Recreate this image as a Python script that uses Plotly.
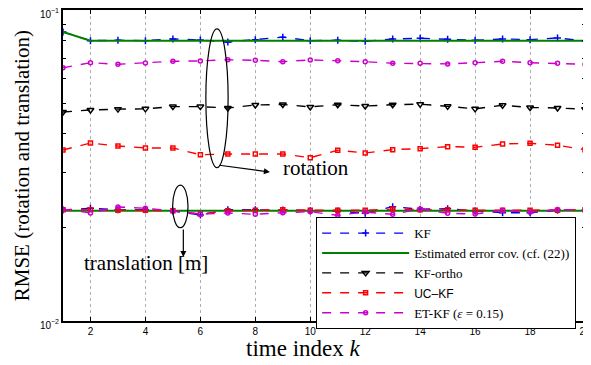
import plotly.graph_objects as go

k = list(range(1, 21))

# rotation RMSE
kf_rot = [0.0850, 0.0797, 0.0799, 0.0797, 0.0807, 0.0801, 0.0789, 0.0803, 0.0818, 0.0797,
          0.0799, 0.0793, 0.0807, 0.0811, 0.0805, 0.0799, 0.0807, 0.0803, 0.0813, 0.0795]
est_rot = [0.0850, 0.0797, 0.0797, 0.0797, 0.0797, 0.0797, 0.0797, 0.0797, 0.0797, 0.0797,
           0.0797, 0.0797, 0.0797, 0.0797, 0.0797, 0.0797, 0.0797, 0.0797, 0.0797, 0.0797]
ortho_rot = [0.0470, 0.0477, 0.0480, 0.0481, 0.0489, 0.0489, 0.0484, 0.0495, 0.0497, 0.0488,
             0.0496, 0.0491, 0.0496, 0.0498, 0.0490, 0.0481, 0.0494, 0.0486, 0.0484, 0.0480]
uc_rot = [0.03547, 0.03735, 0.03653, 0.03600, 0.03600, 0.03425, 0.03443, 0.03443, 0.03443, 0.03350,
          0.03540, 0.03470, 0.03556, 0.03583, 0.03636, 0.03620, 0.03708, 0.03728, 0.03673, 0.03556]
et_rot = [0.0652, 0.0677, 0.0669, 0.0675, 0.0684, 0.0686, 0.0692, 0.0689, 0.0682, 0.0691,
          0.0687, 0.0682, 0.0674, 0.0674, 0.0671, 0.0677, 0.0684, 0.0677, 0.0674, 0.0669]

# translation RMSE
kf_tr = [0.02275, 0.02304, 0.02280, 0.02280, 0.02258, 0.02192, 0.02280, 0.02280, 0.02275, 0.02263,
         0.02258, 0.02220, 0.02331, 0.02287, 0.02297, 0.02258, 0.02230, 0.02230, 0.02269, 0.02269]
est_tr = [0.02263] * 20
uc_tr = [0.0228, 0.0228, 0.0227, 0.0227, 0.0226, 0.0221, 0.0226, 0.0227, 0.0228, 0.0227,
         0.0227, 0.0227, 0.0229, 0.0228, 0.0228, 0.0227, 0.0227, 0.0227, 0.0227, 0.0228]
et_tr = [0.02287, 0.02225, 0.02326, 0.02304, 0.02258, 0.02208, 0.02225, 0.02203, 0.02230, 0.02246,
         0.02187, 0.02241, 0.02203, 0.02292, 0.02220, 0.02208, 0.02269, 0.02236, 0.02280, 0.02280]

serif = "Liberation Serif, Times New Roman, serif"
sans = "Liberation Sans, Arial, sans-serif"

names = ["KF", "Estimated error cov. (cf. (22))", "KF-ortho",
         "<span style=\"font-family:Liberation Sans, Arial, sans-serif; font-size:12px\">UC\u2013KF</span>",
         "ET-KF (<i>\u03b5</i> = 0.15)"]

fig = go.Figure()

def add(name, rot, tr, color, dash, symbol, size, lw=1.4):
    xs = k + [None] + (k if tr is not None else [])
    ys = rot + [None] + (tr if tr is not None else [])
    fig.add_trace(go.Scatter(
        x=xs, y=ys, name=name, mode="lines+markers" if symbol else "lines",
        line=dict(color=color, width=lw, dash=dash),
        marker=dict(symbol=symbol or "circle", size=size, color=color,
                    line=dict(color=color, width=1.5)),
        connectgaps=False,
    ))

add(names[0], kf_rot, kf_tr, "#0000ff", "dash", "cross-thin", 5)
add(names[1], est_rot, est_tr, "#008000", "solid", None, 0, lw=2)
add(names[2], ortho_rot, None, "#000000", "dash", "triangle-down-open", 6)
add(names[3], uc_rot, uc_tr, "#ff0000", "dash", "square-open", 4)
add(names[4], et_rot, et_tr, "#cc00cc", "dash", "circle-open", 4)

# ellipses and arrows
fig.add_shape(type="circle", xref="x", yref="paper", x0=6.2, x1=7.01, y0=0.493, y1=0.939,
              line=dict(color="black", width=1.2))
fig.add_shape(type="circle", xref="x", yref="paper", x0=4.99, x1=5.55, y0=0.300, y1=0.437,
              line=dict(color="black", width=1.2))
fig.add_annotation(x=8.53, y=0.479, xref="x", yref="paper", text="", showarrow=True,
                   axref="pixel", ayref="pixel", ax=-52, ay=-7, arrowhead=2, arrowsize=1,
                   arrowwidth=1.2, arrowcolor="black")
fig.add_annotation(x=5.38, y=0.206, xref="x", yref="paper", text="", showarrow=True,
                   ax=0, ay=-29, arrowhead=2, arrowsize=1, arrowwidth=1.2, arrowcolor="black")
fig.add_annotation(x=10.2, y=0.492, xref="x", yref="paper", text="rotation", showarrow=False,
                   xanchor="center", yanchor="middle",
                   font=dict(family=serif, size=21, color="black"))
fig.add_annotation(x=4.02, y=0.186, xref="x", yref="paper", text="translation [m]",
                   showarrow=False, xanchor="center", yanchor="middle",
                   font=dict(family=serif, size=21, color="black"))

# axis titles
fig.add_annotation(x=-0.079, y=0.5, xref="paper", yref="paper", textangle=-90,
                   text="RMSE (rotation and translation)", showarrow=False,
                   xanchor="center", yanchor="middle",
                   font=dict(family=serif, size=21, color="black"))
fig.add_annotation(x=0.46, y=-0.089, xref="paper", yref="paper",
                   text="time index <i>k</i>", showarrow=False,
                   xanchor="center", yanchor="middle",
                   font=dict(family=serif, size=23, color="black"))

fig.update_layout(
    width=591, height=365,
    margin=dict(l=55, r=14, t=2, b=52, autoexpand=False),
    paper_bgcolor="white", plot_bgcolor="white",
    showlegend=True,
    legend=dict(x=0.983, y=0.334, xanchor="right", yanchor="top",
                bgcolor="white", bordercolor="black", borderwidth=1,
                font=dict(family=serif, size=13, color="black"),
                itemwidth=87, tracegroupgap=0),
)
fig.update_xaxes(
    range=[1, 20], tick0=0, dtick=2, ticks="inside", ticklen=4, tickcolor="black",
    showline=True, linecolor="black", linewidth=2, mirror="ticks",
    showgrid=True, gridcolor="#b0b0b0", griddash="dot", gridwidth=1,
    zeroline=False, automargin=False, ticklabeloverflow="allow",
    tickfont=dict(family=sans, size=10, color="black"),
)
fig.update_yaxes(
    type="log", range=[-2, -1],
    tickvals=[0.01, 0.1], ticktext=["10<sup>\u22122</sup>", "10<sup>\u22121</sup>"],
    ticks="inside", ticklen=5, tickcolor="black",
    minor=dict(tickvals=[0.02, 0.03, 0.04, 0.05, 0.06, 0.07, 0.08, 0.09],
               ticks="inside", ticklen=3, tickcolor="black", showgrid=False),
    showline=True, linecolor="black", linewidth=2, mirror="ticks",
    showgrid=False, zeroline=False, automargin=False, ticklabeloverflow="allow",
    ticklabelshift=4,
    tickfont=dict(family=sans, size=10, color="black"),
)

fig.write_html("out.html")
